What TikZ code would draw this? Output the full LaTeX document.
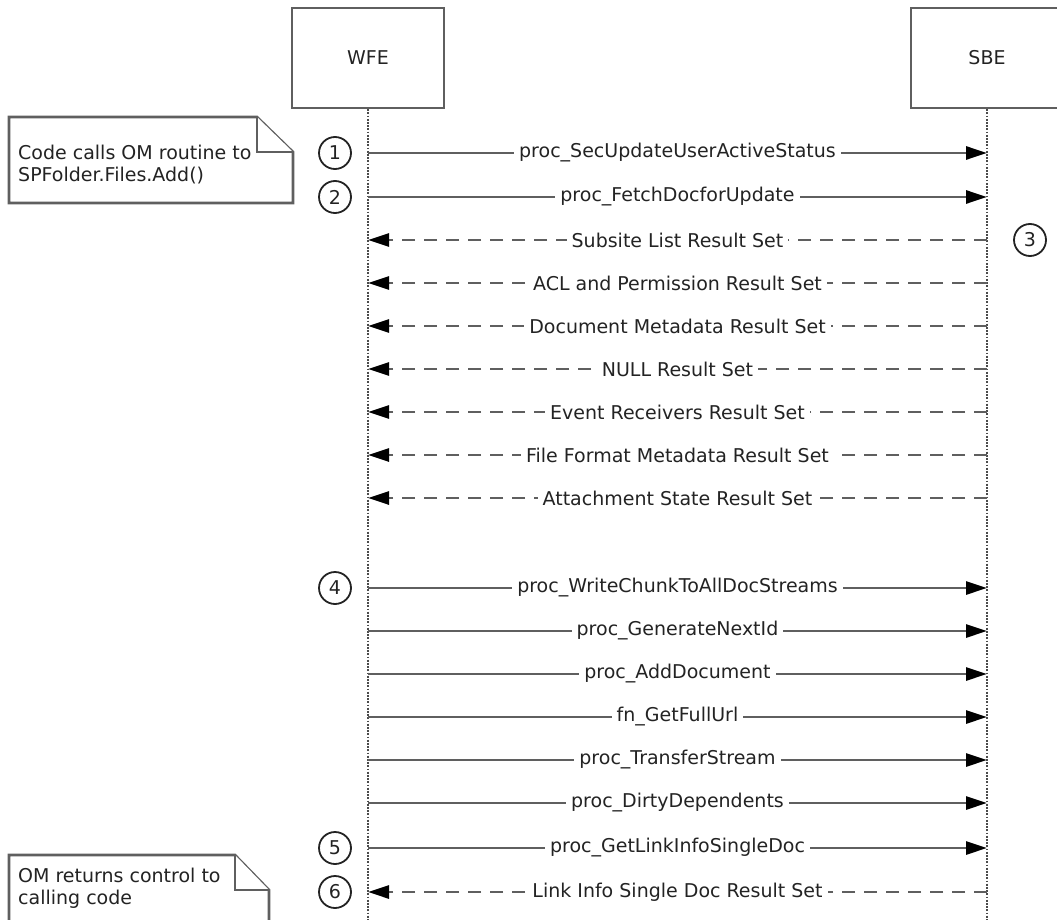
\documentclass[tikz,border=0pt]{standalone}
\usepackage{fontspec}
\setmainfont{DejaVu Sans}
\usetikzlibrary{arrows.meta}

\definecolor{linegray}{RGB}{95,95,95}
\definecolor{lifegray}{RGB}{75,75,75}
\definecolor{textgray}{RGB}{35,35,35}

\tikzset{
  every node/.style={text=textgray, font=\fontsize{19}{22}\selectfont},
  actor/.style={draw=linegray, line width=2.6pt, minimum width=152pt, minimum height=100pt, inner sep=0pt},
  lifeline/.style={draw=lifegray, line width=2.2pt, dash pattern=on 1.8pt off 1.4pt},
  call/.style={draw=linegray, line width=2.8pt, -{Triangle[length=21pt,width=13pt,color=black]}},
  reply/.style={call, dash pattern=on 13pt off 9pt},
  msg/.style={midway, fill=white, inner xsep=5pt, inner ysep=1pt},
  stepnum/.style={circle, draw=textgray, line width=1.8pt, minimum size=32pt, inner sep=0pt},
  notebox/.style={draw=linegray, line width=2.6pt, fill=white},
  notetext/.style={align=left, inner sep=0pt, anchor=base west}
}

\begin{document}
\begin{tikzpicture}[x=1pt, y=-1pt]
  \clip (0,0) rectangle (1057,920);

  % lifeline heads
  \node[actor] (wfe) at (368,58) {WFE};
  \node[actor] (sbe) at (987,58) {SBE};
  \coordinate (wfeEnd) at (368,922);
  \coordinate (sbeEnd) at (987,922);
  \draw[lifeline] (wfe.south) -- (wfeEnd);
  \draw[lifeline] (sbe.south) -- (sbeEnd);

  % message rows on both lifelines
  \foreach \n/\y in {1/153,2/197,3/240,4/283,5/326,6/369,7/412,8/455,9/498,
                     10/588,11/631,12/674,13/717,14/760,15/803,16/848,17/892} {
    \coordinate (w\n) at (368,\y);
    \coordinate (s\n) at (987,\y);
  }

  % notes
  \draw[notebox] (9,117) -- (257,117) -- (293,152) -- (293,203) -- (9,203) -- cycle;
  \draw[notebox] (257,117) -- (257,152) -- (293,152);
  \node[notetext] (noteA) at (18,182) {Code calls OM routine to\\SPFolder.Files.Add()};

  \draw[notebox] (9,855) -- (235,855) -- (269,890) -- (269,925) -- (9,925) -- cycle;
  \draw[notebox] (235,855) -- (235,890) -- (269,890);
  \node[notetext] (noteB) at (18,904) {OM returns control to\\calling code};

  % step numbers
  \node[stepnum] (c1) at (335,153) {1};
  \node[stepnum] (c2) at (335,197) {2};
  \node[stepnum] (c3) at (1030,240) {3};
  \node[stepnum] (c4) at (335,588) {4};
  \node[stepnum] (c5) at (335,848) {5};
  \node[stepnum] (c6) at (335,892) {6};

  % calls and result sets
  \draw[call] (w1) -- node[msg] {proc\_SecUpdateUserActiveStatus} (s1);
  \draw[call] (w2) -- node[msg] {proc\_FetchDocforUpdate} (s2);
  \draw[reply] (s3) -- node[msg] {Subsite List Result Set} (w3);
  \draw[reply] (s4) -- node[msg] {ACL and Permission Result Set} (w4);
  \draw[reply] (s5) -- node[msg] {Document Metadata Result Set} (w5);
  \draw[reply] (s6) -- node[msg] {NULL Result Set} (w6);
  \draw[reply] (s7) -- node[msg] {Event Receivers Result Set} (w7);
  \draw[reply] (s8) -- node[msg] {File Format Metadata Result Set} (w8);
  \draw[reply] (s9) -- node[msg] {Attachment State Result Set} (w9);
  \draw[call] (w10) -- node[msg] {proc\_WriteChunkToAllDocStreams} (s10);
  \draw[call] (w11) -- node[msg] {proc\_GenerateNextId} (s11);
  \draw[call] (w12) -- node[msg] {proc\_AddDocument} (s12);
  \draw[call] (w13) -- node[msg] {fn\_GetFullUrl} (s13);
  \draw[call] (w14) -- node[msg] {proc\_TransferStream} (s14);
  \draw[call] (w15) -- node[msg] {proc\_DirtyDependents} (s15);
  \draw[call] (w16) -- node[msg] {proc\_GetLinkInfoSingleDoc} (s16);
  \draw[reply] (s17) -- node[msg] {Link Info Single Doc Result Set} (w17);
\end{tikzpicture}
\end{document}
